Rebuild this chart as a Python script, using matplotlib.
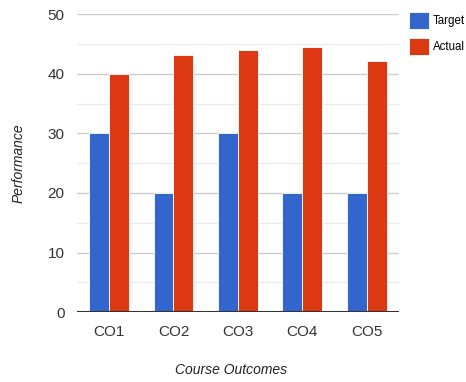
import numpy as np
import matplotlib
matplotlib.use('Agg')
import matplotlib.pyplot as plt

categories = ['CO1', 'CO2', 'CO3', 'CO4', 'CO5']
target = [30, 20, 30, 20, 20]
actual = [40, 43.2, 43.9, 44.5, 42.2]

plt.rcParams['font.family'] = ['Liberation Sans', 'DejaVu Sans']

fig = plt.figure(figsize=(4.66, 3.82), dpi=100)
ax = fig.add_axes([0.165, 0.183, 0.691, 0.78])

x = np.arange(len(categories))
w = 0.31
ax.bar(x - w / 2, target, width=w, color='#3366cc', edgecolor='white', linewidth=0.6,
       label='Target', zorder=3)
ax.bar(x + w / 2, actual, width=w, color='#dc3912', edgecolor='white', linewidth=0.6,
       label='Actual', zorder=3)

ax.set_xlim(-0.5, len(categories) - 0.5)
ax.set_ylim(0, 50)
ax.set_yticks(range(0, 51, 10))
ax.set_yticks(range(5, 50, 10), minor=True)
ax.set_xticks(x)
ax.set_xticklabels(categories)

ax.grid(axis='y', which='major', color='#cccccc', linewidth=1, zorder=0)
ax.grid(axis='y', which='minor', color='#ebebeb', linewidth=1, zorder=0)
ax.axhline(0, color='#333333', linewidth=1.5, zorder=4)

for s in ax.spines.values():
    s.set_visible(False)
ax.tick_params(axis='both', which='both', length=0, labelsize=11, colors='#333333')
ax.tick_params(axis='y', pad=9)
ax.tick_params(axis='x', pad=9)

ax.set_ylabel('Performance', fontsize=10, style='italic', color='#222222')
ax.yaxis.set_label_coords(-0.16, 0.5)
ax.set_xlabel('Course Outcomes', fontsize=10, style='italic', color='#222222')
ax.xaxis.set_label_coords(0.48, -0.172)

fig.legend(loc='upper left', bbox_to_anchor=(0.877, 0.968), frameon=False,
           fontsize=8.3, handlelength=1.8, handleheight=1.8, handletextpad=0.3,
           labelspacing=0.85, borderaxespad=0, borderpad=0)

fig.savefig('out.png', dpi=100)
